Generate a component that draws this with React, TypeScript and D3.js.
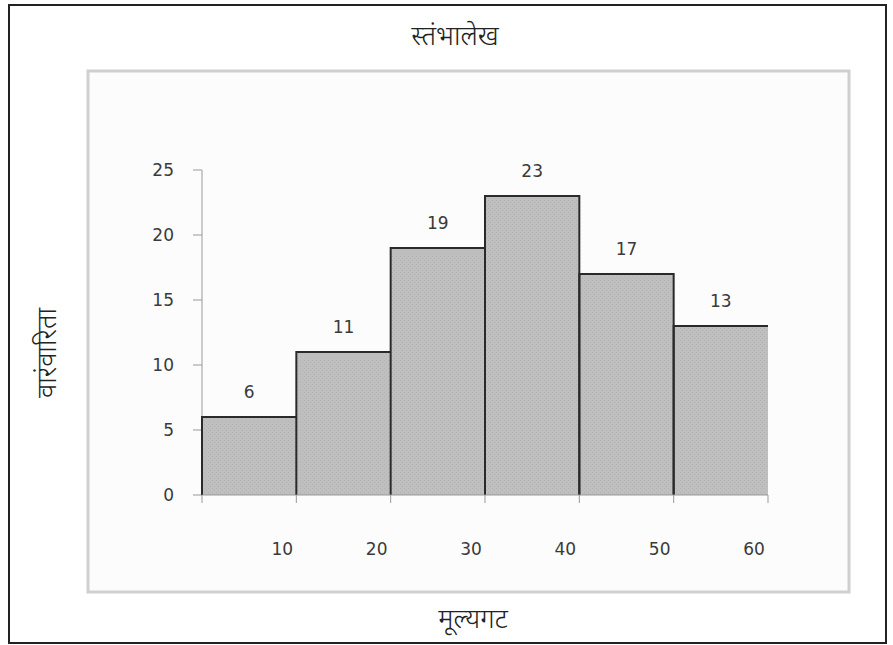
import React, { useEffect } from 'react';
import { scaleLinear } from 'd3';

const width = 893;
const height = 645;

// class intervals and frequencies
const binStarts = [0, 10, 20, 30, 40, 50];
const binEnds = [10, 20, 30, 40, 50, 60];
const frequencies = [6, 11, 19, 23, 17, 13];
const yTicks = [0, 5, 10, 15, 20, 25];
const xTicks = [10, 20, 30, 40, 50, 60];

const title = 'स्तंभालेख';
const xTitle = 'मूल्यगट';
const yTitle = 'वारंवारिता';

const x = scaleLinear().domain([0, 60]).range([202, 768]);
const y = scaleLinear().domain([0, 25]).range([495, 170]);

const devFont = "'Noto Sans Devanagari', 'Lohit Devanagari', 'Noto Sans', sans-serif";
const numFont = "'DejaVu Sans', Verdana, sans-serif";

const Histogram = () => {
  useEffect(() => {
    document.body.style.margin = '0';
  }, []);
  return (
    <svg width={width} height={height} style={{ display: 'block', background: '#fff' }}>
      <defs>
        <pattern id="hatch" width="4" height="4" patternUnits="userSpaceOnUse">
          <rect width="4" height="4" fill="#bfbfbf" />
          <rect width="1" height="1" fill="#b3b3b3" />
          <rect x="2" y="2" width="1" height="1" fill="#b3b3b3" />
        </pattern>
      </defs>
      {/* outer frame */}
      <rect x={9} y={5} width={877} height={638} fill="#fff" stroke="#222" strokeWidth={2} />
      {/* chart area */}
      <rect x={88} y={71} width={761} height={521} fill="#fcfcfc" stroke="#d0d0d0" strokeWidth={3} />

      <text x={455} y={45} textAnchor="middle" fontFamily={devFont} fontSize={27} fontWeight={300} fill="#222">
        {title}
      </text>
      <text x={473} y={628} textAnchor="middle" fontFamily={devFont} fontSize={27} fontWeight={300} fill="#222">
        {xTitle}
      </text>
      <text
        transform="translate(56,353) rotate(-90)"
        textAnchor="middle"
        fontFamily={devFont}
        fontSize={27}
        fontWeight={300}
        fill="#222"
      >
        {yTitle}
      </text>

      {/* y axis */}
      <line x1={x(0)} x2={x(0)} y1={y(25)} y2={y(0)} stroke="#999" strokeWidth={1} />
      {yTicks.map((t) => (
        <g key={t}>
          <line x1={x(0) - 9} x2={x(0)} y1={y(t)} y2={y(t)} stroke="#999" />
          <text
            x={174}
            y={y(t)}
            dy="0.35em"
            textAnchor="end"
            fontFamily={numFont}
            fontSize={17}
            fill="#3a3a3a"
          >
            {t}
          </text>
        </g>
      ))}

      {/* bars */}
      {frequencies.map((f, i) => (
        <rect
          key={'b' + i}
          x={x(binStarts[i])}
          y={y(f)}
          width={x(binEnds[i]) - x(binStarts[i])}
          height={y(0) - y(f)}
          fill="url(#hatch)"
        />
      ))}
      {frequencies.map((f, i) => (
        <path
          key={'o' + i}
          d={`M${x(binStarts[i])},${y(0)}V${y(f)}H${x(binEnds[i])}${
            i < frequencies.length - 1 && frequencies[i + 1] < f ? `V${y(0)}` : ''
          }`}
          fill="none"
          stroke="#2a2a2a"
          strokeWidth={2}
        />
      ))}

      {/* x axis */}
      <line x1={x(0)} x2={x(60)} y1={y(0)} y2={y(0)} stroke="#999" strokeWidth={1} />
      <line x1={x(0)} x2={x(0)} y1={y(0)} y2={y(0) + 8} stroke="#999" />
      {xTicks.map((t) => (
        <g key={'x' + t}>
          <line x1={x(t)} x2={x(t)} y1={y(0)} y2={y(0) + 8} stroke="#999" />
          <text
            x={x(t) - 14}
            y={555}
            textAnchor="middle"
            fontFamily={numFont}
            fontSize={17}
            fill="#3a3a3a"
          >
            {t}
          </text>
        </g>
      ))}

      {/* value labels */}
      {frequencies.map((f, i) => (
        <text
          key={'l' + i}
          x={(x(binStarts[i]) + x(binEnds[i])) / 2}
          y={y(f) - 19}
          textAnchor="middle"
          fontFamily={numFont}
          fontSize={17}
          fill="#3a3a3a"
        >
          {f}
        </text>
      ))}
    </svg>
  );
};

export default Histogram;
